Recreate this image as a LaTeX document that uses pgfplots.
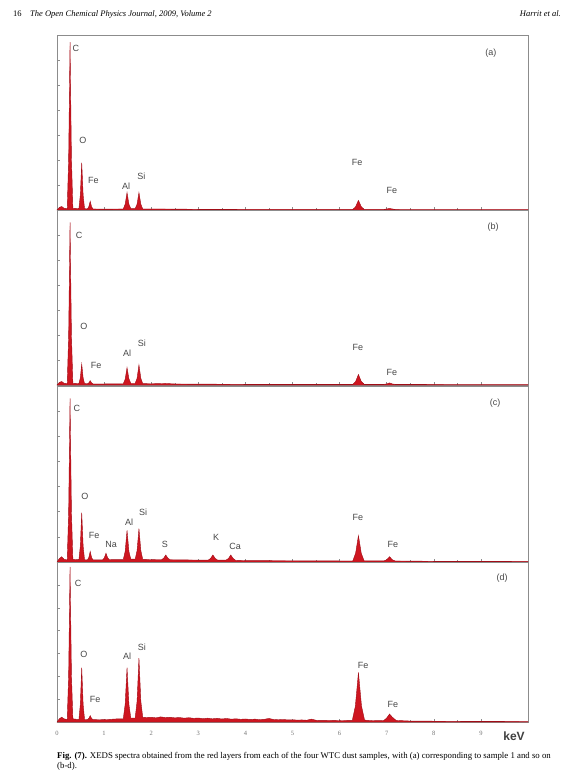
\documentclass[border=0pt]{standalone}
\usepackage{pgfplots}
\pgfplotsset{compat=1.18}
\usepackage{fontspec}
\setmainfont{Liberation Serif}
\newfontfamily\lsans{Liberation Sans}
\definecolor{specred}{RGB}{206,22,32}
\definecolor{specdark}{RGB}{160,12,22}
\definecolor{axgray}{RGB}{140,140,140}
\pgfplotsset{
  eds/.style={
    scale only axis, width=471pt, anchor=south west,
    xmin=0, xmax=10, ymin=0, ymax=1,
    axis line style={axgray, line width=0.9pt},
    xtick={0,...,9}, minor x tick num=1,
    ytick={0.143,0.286,0.429,0.571,0.714,0.857},
    yticklabels={}, xticklabels={},
    xtick pos=bottom, ytick pos=left,
    tick style={axgray, line width=0.5pt},
    major tick length=3pt, minor tick length=2pt,
    clip=false,
  },
  spec/.style={fill=specred, draw=specdark, line width=0.4pt},
}
\tikzset{lab/.style={font=\lsans\fontsize{9}{10}\selectfont, text=black!72, inner sep=0pt}}
\begin{document}
\begin{tikzpicture}
\path[use as bounding box] (0pt,0pt) rectangle (563pt,-777pt);
% header
\node[anchor=west, font=\fontsize{8.5}{10}\selectfont\itshape, inner sep=0pt] at (13pt,-14pt) {\upshape 16\quad\itshape The Open Chemical Physics Journal, 2009, Volume 2};
\node[anchor=east, font=\fontsize{8.5}{10}\selectfont\itshape, inner sep=0pt] at (561pt,-14pt) {Harrit et al.};

% (a)
\begin{axis}[eds, at={(57pt,-210pt)}, height=175pt]
\addplot[spec] coordinates {
(0,0)(0.05,0.015)(0.1,0.02)(0.15,0.01)
(0.217,0.008)(0.247,0.29)(0.277,0.96)(0.307,0.29)(0.337,0.01)
(0.465,0.008)(0.495,0.085)(0.525,0.27)(0.555,0.085)(0.585,0.008)
(0.645,0.006)(0.675,0.018)(0.705,0.05)(0.735,0.018)(0.765,0.006)
(1.0,0.005)
(1.407,0.006)(1.447,0.033)(1.487,0.10)(1.527,0.033)(1.567,0.008)
(1.66,0.008)(1.70,0.033)(1.74,0.10)(1.78,0.033)(1.82,0.006)
(2.2,0.006)(3,0.004)(4,0.003)(5,0.003)(6.0,0.003)
(6.28,0.003)(6.34,0.019)(6.40,0.055)(6.46,0.019)(6.52,0.003)
(6.94,0.003)(7.06,0.009)(7.18,0.003)
(8,0.002)(10,0.002)
} \closedcycle;
\node[lab] at (axis cs:0.40,0.926) {C};
\node[lab] at (axis cs:0.55,0.40) {O};
\node[lab] at (axis cs:0.77,0.17) {Fe};
\node[lab] at (axis cs:1.47,0.137) {Al};
\node[lab] at (axis cs:1.79,0.19) {Si};
\node[lab] at (axis cs:6.37,0.274) {Fe};
\node[lab] at (axis cs:7.11,0.109) {Fe};
\node[lab] at (axis cs:9.21,0.897) {(a)};
\end{axis}

% (b)
\begin{axis}[eds, at={(57pt,-385pt)}, height=175pt]
\addplot[spec] coordinates {
(0,0)(0.05,0.015)(0.1,0.02)(0.15,0.01)
(0.217,0.008)(0.247,0.28)(0.277,0.93)(0.307,0.28)(0.337,0.01)
(0.465,0.008)(0.495,0.04)(0.525,0.12)(0.555,0.04)(0.585,0.008)
(0.645,0.007)(0.675,0.012)(0.705,0.025)(0.735,0.012)(0.765,0.006)
(1.0,0.006)
(1.407,0.007)(1.447,0.033)(1.487,0.10)(1.527,0.035)(1.567,0.01)
(1.66,0.01)(1.70,0.038)(1.74,0.115)(1.78,0.038)(1.82,0.008)
(2.0,0.007)(2.3,0.009)(2.5,0.006)(3,0.005)(4,0.004)(5,0.004)(6,0.004)
(6.28,0.004)(6.34,0.02)(6.40,0.06)(6.46,0.02)(6.52,0.004)
(6.94,0.004)(7.0,0.006)(7.06,0.012)(7.12,0.006)(7.18,0.004)
(8,0.003)(10,0.002)
} \closedcycle;
\node[lab] at (axis cs:0.47,0.857) {C};
\node[lab] at (axis cs:0.57,0.337) {O};
\node[lab] at (axis cs:0.83,0.114) {Fe};
\node[lab] at (axis cs:1.49,0.183) {Al};
\node[lab] at (axis cs:1.80,0.24) {Si};
\node[lab] at (axis cs:6.39,0.217) {Fe};
\node[lab] at (axis cs:7.11,0.069) {Fe};
\node[lab] at (axis cs:9.26,0.903) {(b)};
\end{axis}

% (c)
\begin{axis}[eds, at={(57pt,-562pt)}, height=176pt]
\addplot[spec] coordinates {
(0,0)(0.05,0.02)(0.1,0.03)(0.15,0.015)
(0.217,0.012)(0.247,0.28)(0.277,0.93)(0.307,0.28)(0.337,0.015)
(0.465,0.013)(0.495,0.09)(0.525,0.28)(0.555,0.09)(0.585,0.013)
(0.645,0.012)(0.675,0.025)(0.705,0.06)(0.735,0.025)(0.765,0.012)
(0.97,0.012)(1.005,0.024)(1.04,0.05)(1.075,0.024)(1.11,0.013)
(1.407,0.014)(1.447,0.06)(1.487,0.18)(1.527,0.06)(1.567,0.016)
(1.66,0.016)(1.70,0.065)(1.74,0.19)(1.78,0.065)(1.82,0.015)
(2.0,0.014)(2.1,0.013)
(2.22,0.013)(2.265,0.022)(2.31,0.04)(2.355,0.022)(2.40,0.013)
(2.7,0.012)(3.0,0.011)
(3.21,0.011)(3.26,0.02)(3.31,0.04)(3.36,0.02)(3.41,0.011)
(3.59,0.011)(3.64,0.02)(3.69,0.04)(3.74,0.02)(3.79,0.01)
(4.0,0.008)(5.0,0.007)(6.0,0.006)
(6.28,0.006)(6.34,0.05)(6.40,0.15)(6.46,0.05)(6.52,0.007)
(6.94,0.006)(7.0,0.013)(7.06,0.03)(7.12,0.013)(7.18,0.006)
(8,0.004)(10,0.003)
} \closedcycle;
\node[lab] at (axis cs:0.42,0.875) {C};
\node[lab] at (axis cs:0.59,0.37) {O};
\node[lab] at (axis cs:0.79,0.153) {Fe};
\node[lab] at (axis cs:1.15,0.10) {Na};
\node[lab] at (axis cs:1.53,0.227) {Al};
\node[lab] at (axis cs:1.83,0.284) {Si};
\node[lab] at (axis cs:2.29,0.10) {S};
\node[lab] at (axis cs:3.38,0.142) {K};
\node[lab] at (axis cs:3.78,0.09) {Ca};
\node[lab] at (axis cs:6.39,0.256) {Fe};
\node[lab] at (axis cs:7.13,0.097) {Fe};
\node[lab] at (axis cs:9.30,0.90) {(c)};
\end{axis}

% (d)
\begin{axis}[eds, at={(57pt,-722pt)}, height=160pt,
  xticklabels={0,1,2,3,4,5,6,7,8,9},
  xticklabel style={font=\fontsize{6.5}{7}\selectfont, text=black!55, yshift=-6pt}]
\addplot[spec] coordinates {
(0,0)(0.05,0.02)(0.1,0.03)(0.15,0.02)
(0.217,0.015)(0.247,0.29)(0.277,0.97)(0.307,0.29)(0.337,0.02)
(0.465,0.015)(0.495,0.11)(0.525,0.34)(0.555,0.11)(0.585,0.016)
(0.645,0.015)(0.675,0.022)(0.705,0.04)(0.735,0.022)(0.765,0.015)
(0.9,0.014)(1.1,0.016)(1.3,0.02)
(1.407,0.02)(1.447,0.11)(1.487,0.34)(1.527,0.11)(1.567,0.025)
(1.66,0.025)(1.70,0.13)(1.74,0.40)(1.78,0.13)(1.82,0.03)
(1.9,0.028)(2.0,0.03)(2.1,0.026)(2.2,0.032)(2.3,0.028)(2.4,0.03)(2.5,0.026)(2.6,0.028)
(2.7,0.024)(2.8,0.027)(2.9,0.023)(3.0,0.025)(3.1,0.021)(3.2,0.024)(3.3,0.02)(3.4,0.023)
(3.5,0.019)(3.6,0.022)(3.7,0.018)(3.8,0.02)(3.9,0.017)(4.0,0.019)(4.1,0.016)(4.2,0.018)
(4.3,0.015)(4.4,0.017)(4.5,0.022)(4.6,0.016)(4.7,0.014)(4.8,0.016)(4.9,0.013)(5.0,0.014)
(5.1,0.012)(5.2,0.013)(5.3,0.011)(5.4,0.018)(5.5,0.011)(5.6,0.01)(5.8,0.011)(6.0,0.009)(6.2,0.01)
(6.27,0.01)(6.335,0.1)(6.40,0.31)(6.465,0.1)(6.53,0.012)
(6.7,0.008)(6.9,0.009)
(6.94,0.01)(7.0,0.025)(7.06,0.05)(7.12,0.03)(7.2,0.01)
(7.5,0.006)(8,0.005)(9,0.004)(10,0.003)
} \closedcycle;
\node[lab] at (axis cs:0.45,0.869) {C};
\node[lab] at (axis cs:0.57,0.425) {O};
\node[lab] at (axis cs:0.81,0.144) {Fe};
\node[lab] at (axis cs:1.49,0.41) {Al};
\node[lab] at (axis cs:1.80,0.47) {Si};
\node[lab] at (axis cs:6.50,0.356) {Fe};
\node[lab] at (axis cs:7.13,0.11) {Fe};
\node[lab] at (axis cs:9.45,0.90) {(d)};
\end{axis}

\node[font=\lsans\bfseries\fontsize{12}{14}\selectfont, text=black!75, inner sep=0pt] at (514pt,-736pt) {keV};
% caption
\node[anchor=north west, inner sep=0pt, align=left, font=\fontsize{8.8}{10}\selectfont] at (57pt,-752pt)
 {\textbf{Fig. (7).} XEDS spectra obtained from the red layers from each of the four WTC dust samples, with (a) corresponding to sample 1 and so on\\(b-d).};
\end{tikzpicture}
\end{document}
